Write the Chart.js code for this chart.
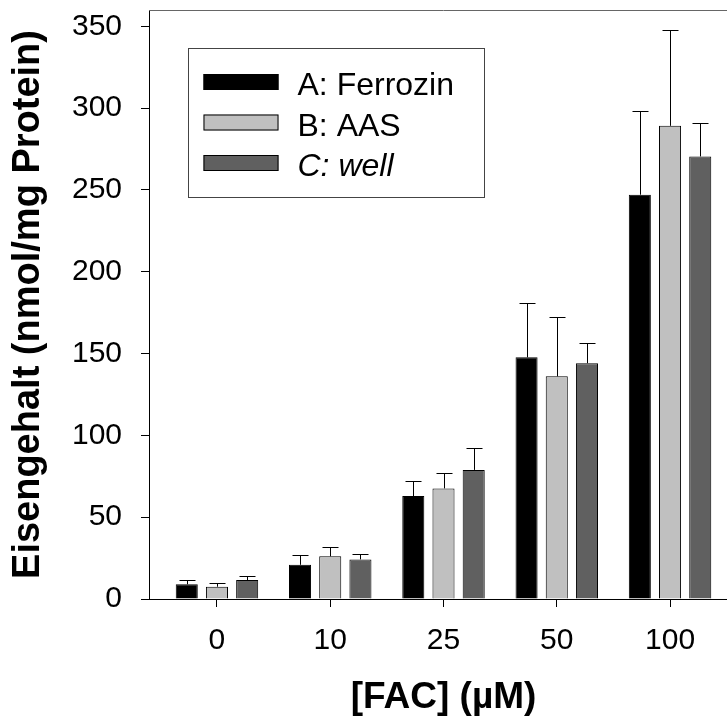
<!DOCTYPE html>
<html>
<head>
<meta charset="utf-8">
<script src="https://cdn.jsdelivr.net/npm/chart.js@4"></script>
<style>
html, body { margin: 0; padding: 0; background: #fff; overflow: hidden; }
#wrap { width: 740px; height: 720px; position: relative; }
</style>
</head>
<body>
<div id="wrap"><canvas id="chart"></canvas></div>
<script>
// values
const categories = ['0', '10', '25', '50', '100'];
const seriesNames = ['A: Ferrozin', 'B: AAS', 'C: well'];
const ferrozin = [9.0, 20.9, 62.9, 147.7, 247.1];
const ferrozinErr = [2.4, 6.2, 9.1, 33.2, 51.4];
const aas = [7.5, 26.1, 67.6, 136.1, 289.2];
const aasErr = [2.3, 5.5, 9.5, 36.5, 58.4];
const well = [11.6, 24.2, 78.9, 144.1, 270.5];
const wellErr = [2.6, 3.1, 13.5, 12.6, 20.7];
const yTicks = [0, 50, 100, 150, 200, 250, 300, 350];

const colors = ['#000000', '#c0c0c0', '#606060'];
const FONT = "'Liberation Sans', Arial, sans-serif";

function toPoints(vals) {
    return vals.map((v, i) => ({ x: i, y: v }));
}

const errors = [ferrozinErr, aasErr, wellErr];

// upper error bars with caps
const errorBars = {
    id: 'errorBars',
    afterDatasetsDraw(chart) {
        const ctx = chart.ctx;
        const y = chart.scales.y;
        ctx.save();
        ctx.strokeStyle = '#000';
        ctx.lineWidth = 1;
        chart.data.datasets.forEach((ds, di) => {
            const meta = chart.getDatasetMeta(di);
            meta.data.forEach((bar, i) => {
                const top = y.getPixelForValue(ds.data[i].y + errors[di][i]);
                const x = Math.round(bar.x) + 0.5;
                ctx.beginPath();
                ctx.moveTo(x, bar.y);
                ctx.lineTo(x, Math.round(top) + 0.5);
                ctx.moveTo(x - 8, Math.round(top) + 0.5);
                ctx.lineTo(x + 8, Math.round(top) + 0.5);
                ctx.stroke();
            });
        });
        ctx.restore();
    }
};

// top frame line and boxed legend
const frameLegend = {
    id: 'frameLegend',
    afterDraw(chart) {
        const ctx = chart.ctx;
        const a = chart.chartArea;
        ctx.save();
        ctx.strokeStyle = '#666';
        ctx.lineWidth = 1;
        ctx.beginPath();
        ctx.moveTo(a.left, a.top + 0.5);
        ctx.lineTo(a.right, a.top + 0.5);
        ctx.stroke();

        const bx = a.left + 39.5, by = a.top + 38.5;
        ctx.strokeStyle = '#444';
        ctx.strokeRect(bx, by, 296, 149);

        chart.data.datasets.forEach((ds, i) => {
            const cy = by + 33.5 + i * 40.5;
            ctx.fillStyle = ds.backgroundColor;
            ctx.fillRect(bx + 15, cy - 8, 75, 16);
            ctx.strokeStyle = '#000';
            ctx.strokeRect(bx + 15.5, cy - 7.5, 74, 15);
            ctx.fillStyle = '#000';
            ctx.font = (i === 2 ? 'italic ' : '') + '32px ' + FONT;
            ctx.textBaseline = 'alphabetic';
            ctx.textAlign = 'left';
            ctx.fillText(ds.label, bx + 109, cy + 13);
        });
        ctx.restore();
    }
};

const chart = new Chart(document.getElementById('chart'), {
    type: 'bar',
    data: {
        datasets: [
            { label: seriesNames[0], data: toPoints(ferrozin), backgroundColor: colors[0] },
            { label: seriesNames[1], data: toPoints(aas), backgroundColor: colors[1] },
            { label: seriesNames[2], data: toPoints(well), backgroundColor: colors[2] }
        ]
    },
    options: {
        responsive: true,
        maintainAspectRatio: false,
        animation: false,
        layout: { padding: { top: 10, right: 2, left: 0, bottom: 0 } },
        datasets: {
            bar: {
                borderColor: '#000',
                borderWidth: 1,
                categoryPercentage: 0.8,
                barPercentage: 0.73
            }
        },
        plugins: {
            legend: { display: false },
            tooltip: { enabled: false }
        },
        scales: {
            x: {
                type: 'linear',
                offset: false,
                min: -0.6,
                max: 4.6,
                afterBuildTicks: s => { s.ticks = categories.map((c, i) => ({ value: i })); },
                afterFit: s => { s.height = 121; s.paddingLeft = 0; s.paddingRight = 0; },
                ticks: {
                    autoSkip: false,
                    maxRotation: 0,
                    padding: 16,
                    color: '#000',
                    font: { family: FONT, size: 30 },
                    callback: v => categories[v]
                },
                grid: { offset: false, drawOnChartArea: false, drawTicks: true, tickLength: 8, color: '#000' },
                border: { display: true, color: '#000', width: 1 },
                title: {
                    display: true,
                    text: '[FAC] (µM)',
                    color: '#000',
                    font: { family: FONT, size: 37, weight: 'bold' },
                    padding: { top: 0, bottom: 0 }
                }
            },
            y: {
                min: 0,
                max: 360,
                afterBuildTicks: s => { s.ticks = yTicks.map(v => ({ value: v })); },
                afterFit: s => { s.width = 149; s.paddingTop = 0; s.paddingBottom = 0; },
                ticks: {
                    padding: 19,
                    color: '#000',
                    font: { family: FONT, size: 30 }
                },
                grid: { drawOnChartArea: false, drawTicks: true, tickLength: 8, color: '#000' },
                border: { display: true, color: '#000', width: 1 },
                title: {
                    display: true,
                    text: 'Eisengehalt (nmol/mg Protein)',
                    color: '#000',
                    font: { family: FONT, size: 38, weight: 'bold' },
                    padding: { top: 6, bottom: 0 }
                }
            }
        }
    },
    plugins: [errorBars, frameLegend]
});
</script>
</body>
</html>
